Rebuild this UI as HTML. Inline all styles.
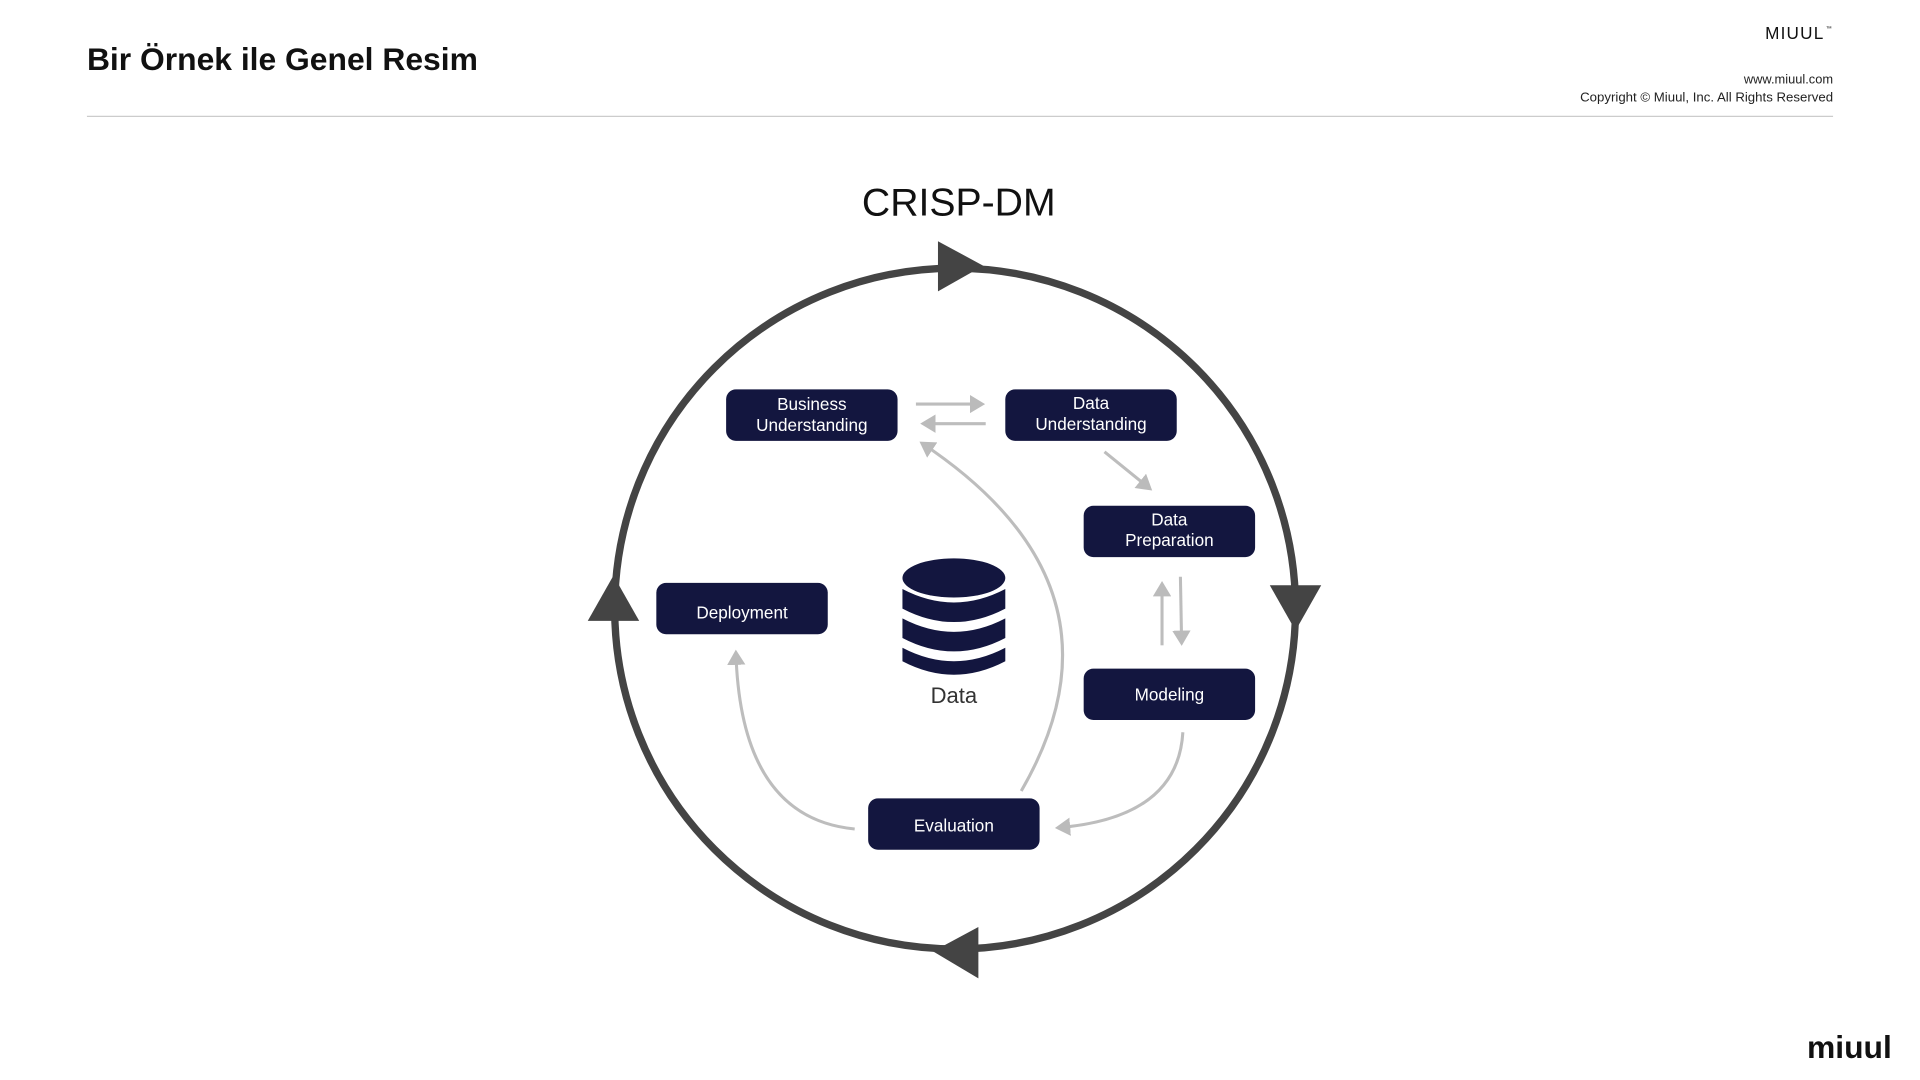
<!DOCTYPE html>
<html><head><meta charset="utf-8"><style>
html,body{margin:0;padding:0;background:#fff;}
svg{display:block;}
</style></head><body>
<svg width="1920" height="1080" viewBox="0 0 1568 882" xmlns="http://www.w3.org/2000/svg" font-family="Liberation Sans, DejaVu Sans, sans-serif">
<rect width="1568" height="882" fill="#fff"/>
<text x="71" y="57" font-size="26" font-weight="bold" fill="#111">Bir Örnek ile Genel Resim</text>
<text x="1490" y="32" font-size="14" text-anchor="end" fill="#111" letter-spacing="1">MIUUL</text>
<text x="1491" y="25" font-size="5" fill="#111">™</text>
<text x="1497" y="68" font-size="10.5" text-anchor="end" fill="#222">www.miuul.com</text>
<text x="1497" y="83" font-size="10.8" text-anchor="end" fill="#222">Copyright © Miuul, Inc. All Rights Reserved</text>
<line x1="71" y1="95" x2="1497" y2="95" stroke="#ccc" stroke-width="1"/>
<text x="783" y="176" font-size="32" text-anchor="middle" fill="#111">CRISP-DM</text>

<circle cx="780" cy="497" r="278" fill="none" stroke="#444" stroke-width="6"/>
<polygon points="766,197 803,217 766,238" fill="#444"/>
<polygon points="1037,478 1079,478 1058,515" fill="#444"/>
<polygon points="799,757 762,777 799,799" fill="#444"/>
<polygon points="480,507 522,507 501,470" fill="#444"/>

<defs><marker id="a" markerWidth="6" markerHeight="6" refX="4" refY="3" orient="auto" markerUnits="strokeWidth"><path d="M0,0 L5,3 L0,6 z" fill="#bbb"/></marker></defs>
<g stroke="#bdbdbd" stroke-width="2.5" fill="none" marker-end="url(#a)">
<line x1="748" y1="330" x2="802" y2="330"/>
<line x1="805" y1="346" x2="754" y2="346"/>
<line x1="902" y1="369" x2="939" y2="399"/>
<line x1="949" y1="527" x2="949" y2="477"/>
<line x1="964" y1="471" x2="965" y2="525"/>
<path d="M966,598 Q962,668 864,676"/>
<path d="M834,646 Q930,480 753,362"/>
<path d="M698,677 Q605,668 601,533"/>
</g>

<g fill="#13163f">
<rect x="593" y="318" width="140" height="42" rx="8"/>
<rect x="821" y="318" width="140" height="42" rx="8"/>
<rect x="885" y="413" width="140" height="42" rx="8"/>
<rect x="885" y="546" width="140" height="42" rx="8"/>
<rect x="709" y="652" width="140" height="42" rx="8"/>
<rect x="536" y="476" width="140" height="42" rx="8"/>
</g>
<g fill="#fff" font-size="14" text-anchor="middle">
<text x="663" y="335">Business</text><text x="663" y="352">Understanding</text>
<text x="891" y="334">Data</text><text x="891" y="351">Understanding</text>
<text x="955" y="429">Data</text><text x="955" y="446">Preparation</text>
<text x="955" y="572">Modeling</text>
<text x="779" y="679">Evaluation</text>
<text x="606" y="505">Deployment</text>
</g>

<g fill="#13163f">
<ellipse cx="779" cy="472" rx="42" ry="16"/>
<path d="M737,481 Q779,503 821,481 L821,497 Q779,519 737,497 z"/>
<path d="M737,505 Q779,527 821,505 L821,521 Q779,543 737,521 z"/>
<path d="M737,529 Q779,551 821,529 L821,540 Q779,562 737,540 z"/>
</g>
<text x="779" y="574" font-size="18" text-anchor="middle" fill="#333">Data</text>

<text x="1545" y="864" font-size="26" font-weight="bold" text-anchor="end" fill="#111">miuul</text>
</svg>
</body></html>
